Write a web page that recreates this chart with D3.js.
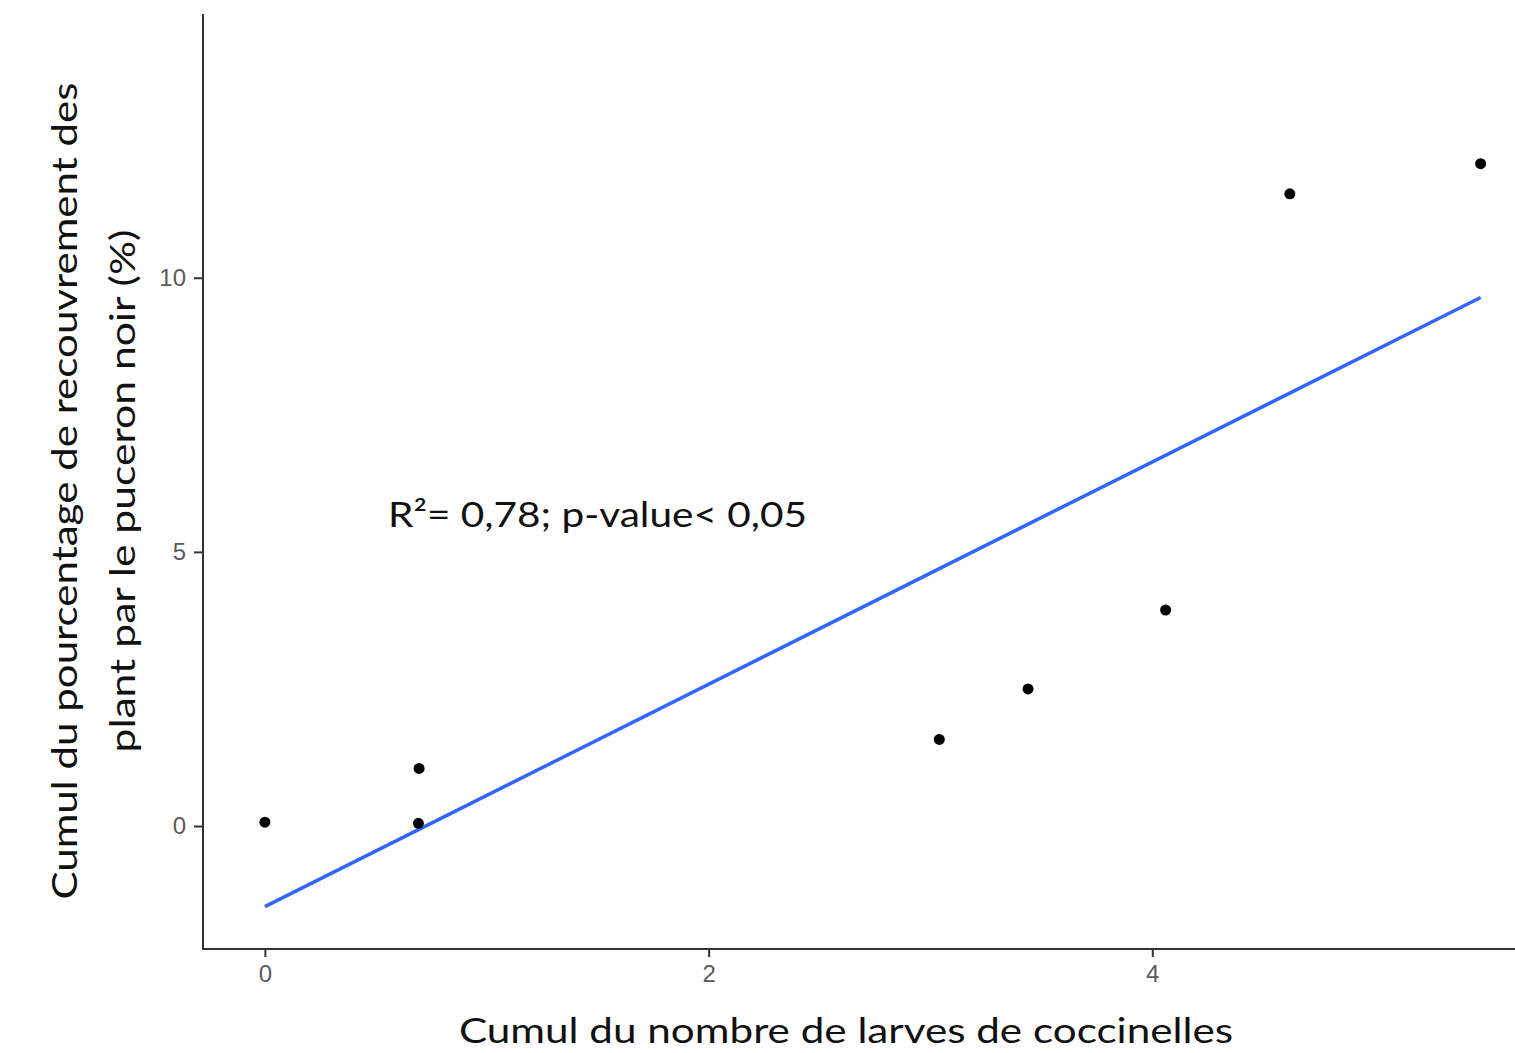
<!DOCTYPE html>
<html>
<head>
<meta charset="utf-8">
<script src="https://cdn.jsdelivr.net/npm/d3@7"></script>
<style>
  body { margin: 0; background: #fff; }
  svg { display: block; }
</style>
</head>
<body>
<svg width="1515" height="1053"></svg>
<script>
const svg = d3.select("svg");

// points
const larves = [0, 0.695, 0.692, 3.04, 3.44, 4.06, 4.62, 5.48];
const recouvrement = [0.07, 1.05, 0.05, 1.58, 2.50, 3.94, 11.53, 12.08];

// fitted line (ends)
const fitX = [0, 5.48];
const fitY = [-1.47, 9.64];

const xTicks = [0, 2, 4];
const yTicks = [0, 5, 10];

const xTitle = "Cumul du nombre de larves de coccinelles";
const yTitle = ["Cumul du pourcentage de recouvrement des", "plant par le puceron noir (%)"];
const annotation = "R²= 0,78; p-value< 0,05";

// plot panel
const panelLeft = 203, panelRight = 1515, panelTop = 14, panelBottom = 949;

const x = d3.scaleLinear().domain([-0.279, 5.635]).range([panelLeft, panelRight]);
const y = d3.scaleLinear().domain([-2.243, 14.81]).range([panelBottom, panelTop]);

// axes
const xAxis = svg.append("g")
  .attr("transform", `translate(0,${panelBottom})`)
  .call(d3.axisBottom(x).tickValues(xTicks).tickFormat(d3.format("d"))
    .tickSize(8).tickPadding(8).tickSizeOuter(0));

const yAxis = svg.append("g")
  .attr("transform", `translate(${panelLeft},0)`)
  .call(d3.axisLeft(y).tickValues(yTicks).tickFormat(d3.format("d"))
    .tickSize(9).tickPadding(8).tickSizeOuter(0));

[xAxis, yAxis].forEach(a => {
  a.select(".domain").attr("stroke", "#333").attr("stroke-width", 2);
  a.selectAll(".tick line").attr("stroke", "#333").attr("stroke-width", 2);
  a.selectAll(".tick text")
    .attr("fill", "#5a5a5a")
    .style("font-family", "'Liberation Sans', Arial, sans-serif")
    .style("font-size", "24px");
});
// make the two axis lines meet at the corner
xAxis.select(".domain").attr("d", `M${panelLeft - 1},0H${panelRight}`);
yAxis.select(".domain").attr("d", `M0,${panelTop}V${panelBottom + 1}`);

// regression line
const line = d3.line().x(d => x(d[0])).y(d => y(d[1]));
svg.append("path")
  .datum(d3.zip(fitX, fitY))
  .attr("d", line)
  .attr("fill", "none")
  .attr("stroke", "#3366FF")
  .attr("stroke-width", 3.5);

// points
svg.selectAll(".pt")
  .data(d3.zip(larves, recouvrement))
  .enter()
  .append("circle")
  .attr("class", "pt")
  .attr("cx", d => x(d[0]))
  .attr("cy", d => y(d[1]))
  .attr("r", 5.5)
  .attr("fill", "#000");

const titleFont = "Lato, 'Open Sans', sans-serif";

// annotation
svg.append("text")
  .attr("x", 388)
  .attr("y", 527)
  .attr("textLength", 419)
  .attr("lengthAdjust", "spacingAndGlyphs")
  .style("font-family", titleFont)
  .style("font-size", "35px")
  .attr("fill", "#111")
  .text(annotation);

// x title
svg.append("text")
  .attr("x", 846)
  .attr("y", 1043)
  .attr("text-anchor", "middle")
  .attr("textLength", 774)
  .attr("lengthAdjust", "spacingAndGlyphs")
  .style("font-family", titleFont)
  .style("font-size", "35px")
  .attr("fill", "#111")
  .text(xTitle);

// y title, two lines
const yLens = [817, 523];
svg.append("g")
  .attr("transform", "translate(0,491) rotate(-90)")
  .selectAll("text")
  .data(yTitle)
  .enter()
  .append("text")
  .attr("x", 0)
  .attr("y", (d, i) => 77 + i * 58)
  .attr("text-anchor", "middle")
  .attr("textLength", (d, i) => yLens[i])
  .attr("lengthAdjust", "spacingAndGlyphs")
  .style("font-family", titleFont)
  .style("font-size", "35px")
  .attr("fill", "#111")
  .text(d => d);
</script>
</body>
</html>
